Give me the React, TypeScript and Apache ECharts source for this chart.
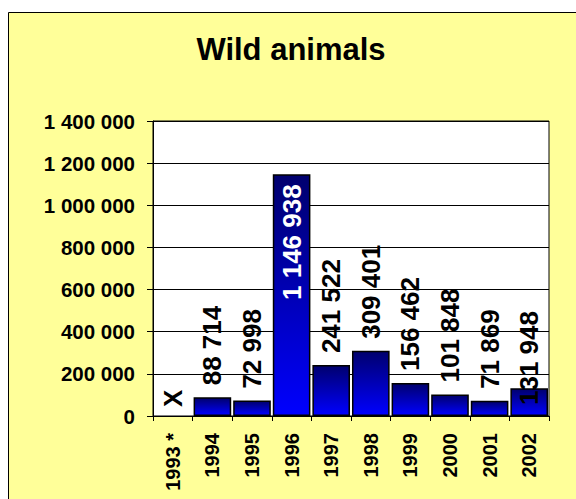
import React, { useEffect, useRef } from "react";
import * as echarts from "echarts";

const TITLE = "Wild animals";
const categories = ["1993 *", "1994", "1995", "1996", "1997", "1998", "1999", "2000", "2001", "2002"];
// null = not available (shown as "X")
const values: (number | null)[] = [null, 88714, 72998, 1146938, 241522, 309401, 156462, 101848, 71869, 131948];
const yTicks = [0, 200000, 400000, 600000, 800000, 1000000, 1200000, 1400000];
const MISSING_MARK = "X";

const FONT = "'Liberation Sans', Arial, sans-serif";

const fmt = (v: number) => String(Math.round(v)).replace(/\B(?=(\d{3})+(?!\d))/g, " ");

export default function App() {
  const ref = useRef<HTMLDivElement>(null);

  useEffect(() => {
    if (!ref.current) return;
    const chart = echarts.init(ref.current, null, { renderer: "svg" });

    const yMax = yTicks[yTicks.length - 1];
    const yStep = yTicks[1] - yTicks[0];

    const barData = values.map((v, i) => {
      if (v == null) return { value: null };
      const item: any = { value: v };
      if (v > yMax * 0.7) {
        item.label = {
          position: "insideTop",
          align: "right",
          verticalAlign: "middle",
          distance: 10,
          color: "#fff",
        };
      } else if (i === values.length - 1) {
        item.label = {
          position: "insideBottom",
          align: "left",
          verticalAlign: "middle",
          distance: 11,
        };
      }
      return item;
    });

    const missingData = values.map((v) => (v == null ? 0 : null));

    const option: any = {
      animation: false,
      backgroundColor: "#ffffff",
      graphic: [
        {
          type: "rect",
          shape: { x: 8.5, y: 12.5, width: 700, height: 700 },
          style: { fill: "#FFFF99", stroke: "#000", lineWidth: 1 },
          z: -10,
          silent: true,
        },
        {
          type: "text",
          x: 291,
          y: 49,
          style: {
            text: TITLE,
            fontFamily: FONT,
            fontWeight: "bold",
            fontSize: 31,
            fill: "#000",
            textAlign: "center",
            textVerticalAlign: "middle",
          },
          z: 10,
        },
      ],
      grid: {
        left: 153,
        top: 121,
        right: 27,
        bottom: 83,
        show: true,
        backgroundColor: "#ffffff",
        borderColor: "#000",
        borderWidth: 1,
        containLabel: false,
        outerBoundsMode: "none",
      },
      xAxis: {
        type: "category",
        data: categories,
        boundaryGap: true,
        axisLine: { show: true, lineStyle: { color: "#000", width: 1 } },
        axisTick: { show: true, length: 5, interval: 0, lineStyle: { color: "#000" } },
        axisLabel: {
          interval: 0,
          rotate: 90,
          margin: 17,
          fontFamily: FONT,
          fontWeight: "bold",
          fontSize: 20,
          color: "#000",
        },
        splitLine: { show: false },
      },
      yAxis: {
        type: "value",
        min: yTicks[0],
        max: yMax,
        interval: yStep,
        axisLine: { show: true, lineStyle: { color: "#000", width: 1 } },
        axisTick: { show: true, length: 6, lineStyle: { color: "#000" } },
        axisLabel: {
          margin: 18,
          fontFamily: FONT,
          fontWeight: "bold",
          fontSize: 20.5,
          color: "#000",
          formatter: (v: number) => fmt(v),
        },
        splitLine: { show: true, lineStyle: { color: "#000", width: 1 } },
      },
      series: [
        {
          type: "bar",
          data: barData,
          barCategoryGap: "5%",
          itemStyle: {
            color: new echarts.graphic.LinearGradient(0, 0, 0, 1, [
              { offset: 0, color: "#00006E" },
              { offset: 1, color: "#0000FF" },
            ]),
            borderColor: "#000",
            borderWidth: 1.5,
          },
          label: {
            show: true,
            position: "top",
            rotate: 90,
            align: "left",
            verticalAlign: "middle",
            distance: 12,
            fontFamily: FONT,
            fontWeight: "bold",
            fontSize: 26,
            color: "#000",
            formatter: (p: any) => fmt(p.value),
          },
        },
        {
          type: "scatter",
          data: missingData,
          symbolSize: 0,
          itemStyle: { opacity: 1, color: "#000" },
          label: {
            show: true,
            position: "top",
            rotate: 90,
            align: "left",
            verticalAlign: "middle",
            distance: 9,
            fontFamily: FONT,
            fontWeight: "bold",
            fontSize: 26,
            color: "#000",
            opacity: 1,
            formatter: () => MISSING_MARK,
          },
        },
      ],
    };

    chart.setOption(option);
    return () => chart.dispose();
  }, []);

  return (
    <div
      ref={ref}
      style={{ position: "absolute", left: 0, top: 0, width: 576, height: 499 }}
    />
  );
}
